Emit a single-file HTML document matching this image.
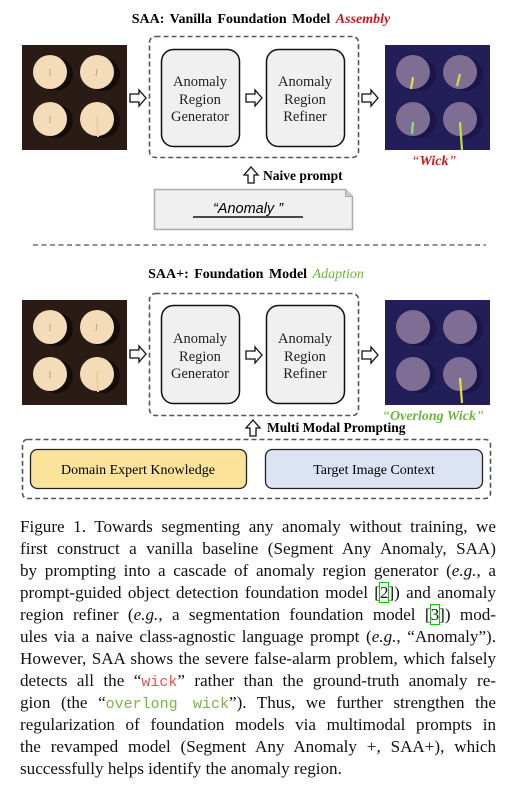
<!DOCTYPE html>
<html><head><meta charset="utf-8"><style>
body{margin:0;width:517px;height:799px;background:#fff;position:relative;overflow:hidden;font-family:"Liberation Serif",serif;}
.a{position:absolute;}
.cap{position:absolute;left:20px;width:476px;font-size:17.1px;line-height:22px;color:#111;}
.cap div{text-align:justify;text-align-last:justify;white-space:nowrap;height:22px;}
.cap div.last{text-align-last:left;}
.m{font-family:"Liberation Mono",monospace;font-size:15px;}
</style></head><body>
<svg class="a" style="left:0;top:0" width="517" height="510" xmlns="http://www.w3.org/2000/svg">
<defs>
<g id="lim">
<rect width="105" height="105" fill="#2a1c14"/>
<g fill="#140d09"><circle cx="34" cy="29" r="17"/><circle cx="81" cy="29" r="17"/><circle cx="34" cy="76" r="17"/><circle cx="81" cy="76" r="17"/></g>
<g fill="#f4dcb8"><circle cx="28" cy="27" r="17"/><circle cx="75" cy="27" r="17"/><circle cx="28" cy="74" r="17"/><circle cx="75" cy="74" r="17"/></g>
<g stroke="#b8a080" stroke-width="1"><line x1="28" y1="24" x2="28" y2="31"/><line x1="75" y1="24" x2="74" y2="31"/><line x1="28" y1="71" x2="28" y2="78"/><line x1="75" y1="71" x2="76" y2="92" stroke="#e8d0a0" stroke-width="2"/></g>
</g>
<g id="rimg">
<rect width="105" height="105" fill="#221e58"/>
<g fill="#1a1648"><circle cx="34" cy="29" r="17"/><circle cx="81" cy="29" r="17"/><circle cx="34" cy="76" r="17"/><circle cx="81" cy="76" r="17"/></g>
<g fill="#7e6e94"><circle cx="28" cy="27" r="17"/><circle cx="75" cy="27" r="17"/><circle cx="28" cy="74" r="17"/><circle cx="75" cy="74" r="17"/></g>
</g>
<g id="ar"><path d="M0,-4 L9,-4 L9,-8 L16,0 L9,8 L9,4 L0,4 Z" fill="#fff" stroke="#111" stroke-width="1.3"/></g>
<g id="au"><path d="M-3,8 L-3,0 L-7,0 L0,-8 L7,0 L3,0 L3,8 Z" fill="#fff" stroke="#111" stroke-width="1.3"/></g>
</defs>
<text x="261" y="23" text-anchor="middle" font-family="Liberation Serif" font-weight="bold" font-size="14" word-spacing="2">SAA: Vanilla Foundation Model <tspan fill="#c8181e" font-style="italic">Assembly</tspan></text>
<use href="#lim" x="22" y="45"/>
<use href="#ar" x="130" y="98"/>
<rect x="149.5" y="36.5" width="209" height="121" rx="6" fill="none" stroke="#555" stroke-width="1.6" stroke-dasharray="5,3"/>
<rect x="161.5" y="49.5" width="78" height="97" rx="12" fill="#f0f0f0" stroke="#111" stroke-width="1.5"/>
<rect x="266.5" y="49.5" width="78" height="97" rx="12" fill="#f0f0f0" stroke="#111" stroke-width="1.5"/>
<g font-family="Liberation Serif" font-size="14.5" text-anchor="middle" fill="#222">
<text x="200" y="86">Anomaly</text><text x="200" y="104">Region</text><text x="200" y="121">Generator</text>
<text x="305" y="86">Anomaly</text><text x="305" y="104">Region</text><text x="305" y="121">Refiner</text>
</g>
<use href="#ar" x="246" y="98"/>
<use href="#ar" x="362" y="98"/>
<use href="#rimg" x="385" y="45"/>
<g stroke-width="2.2"><line x1="413" y1="77" x2="411" y2="89" stroke="#e0e040"/><line x1="460" y1="74" x2="457" y2="86" stroke="#c8e050"/><line x1="413" y1="122" x2="412" y2="134" stroke="#90e080"/><line x1="460" y1="122" x2="462" y2="150" stroke="#c8e040"/></g>
<text x="434" y="165" text-anchor="middle" font-family="Liberation Serif" font-size="14" font-style="italic" font-weight="bold" fill="#c8181e"><tspan font-weight="normal">“</tspan>Wick<tspan font-weight="normal">”</tspan></text>
<use href="#au" x="251" y="175"/>
<text x="263" y="180" font-family="Liberation Serif" font-weight="bold" font-size="13.5">Naive prompt</text>
<path d="M154.5,189.5 L345.5,189.5 L352.5,196.5 L352.5,229.5 L154.5,229.5 Z" fill="#f0f0f0" stroke="#aaa" stroke-width="1.5"/>
<path d="M345.5,189.5 L345.5,196.5 L352.5,196.5" fill="#ccc" stroke="#aaa"/>
<text x="248" y="213" text-anchor="middle" font-family="Liberation Sans" font-style="italic" font-size="14.5">“Anomaly ”</text>
<line x1="193" y1="217" x2="303" y2="217" stroke="#111" stroke-width="1.6"/>
<line x1="33" y1="245" x2="486" y2="245" stroke="#222" stroke-width="1" stroke-dasharray="5,3.5"/>

<text x="256" y="278" text-anchor="middle" font-family="Liberation Serif" font-weight="bold" font-size="14" word-spacing="2">SAA+: Foundation Model <tspan fill="#6db33f" font-style="italic" font-weight="normal">Adaption</tspan></text>
<use href="#lim" x="22" y="300"/>
<use href="#ar" x="130" y="354"/>
<rect x="149.5" y="293.5" width="209" height="122" rx="6" fill="none" stroke="#555" stroke-width="1.6" stroke-dasharray="5,3"/>
<rect x="161.5" y="305.5" width="78" height="98" rx="12" fill="#f0f0f0" stroke="#111" stroke-width="1.5"/>
<rect x="266.5" y="305.5" width="78" height="98" rx="12" fill="#f0f0f0" stroke="#111" stroke-width="1.5"/>
<g font-family="Liberation Serif" font-size="14.5" text-anchor="middle" fill="#222">
<text x="200" y="343">Anomaly</text><text x="200" y="361">Region</text><text x="200" y="378">Generator</text>
<text x="305" y="343">Anomaly</text><text x="305" y="361">Region</text><text x="305" y="378">Refiner</text>
</g>
<use href="#ar" x="246" y="355"/>
<use href="#ar" x="362" y="355"/>
<use href="#rimg" x="385" y="300"/>
<line x1="460" y1="378" x2="462" y2="403" stroke="#e8e040" stroke-width="2.2"/>
<text x="433" y="420" text-anchor="middle" font-family="Liberation Serif" font-size="14" font-style="italic" font-weight="bold" fill="#6db33f"><tspan font-weight="normal">“</tspan>Overlong Wick<tspan font-weight="normal">”</tspan></text>
<use href="#au" x="253" y="428"/>
<text x="267" y="432" font-family="Liberation Serif" font-weight="bold" font-size="13.5">Multi Modal Prompting</text>
<rect x="22.5" y="439.5" width="468" height="59" rx="5" fill="none" stroke="#555" stroke-width="1.6" stroke-dasharray="5,3"/>
<rect x="30.5" y="449.5" width="216" height="39" rx="7" fill="#fbe49a" stroke="#222" stroke-width="1.3"/>
<rect x="265.5" y="449.5" width="217" height="39" rx="7" fill="#dce3f2" stroke="#222" stroke-width="1.3"/>
<text x="138" y="474" text-anchor="middle" font-family="Liberation Serif" font-size="14">Domain Expert Knowledge</text>
<text x="374" y="474" text-anchor="middle" font-family="Liberation Serif" font-size="14">Target Image Context</text>
</svg>
<div class="cap" style="top:516px">
<div>Figure 1. Towards segmenting any anomaly without training, we</div>
<div>first construct a vanilla baseline (Segment Any Anomaly, SAA)</div>
<div>by prompting into a cascade of anomaly region generator (<i>e.g.</i>, a</div>
<div>prompt-guided object detection foundation model [<span style="outline:1px solid #0c0">2</span>]) and anomaly</div>
<div>region refiner (<i>e.g.</i>, a segmentation foundation model [<span style="outline:1px solid #0c0">3</span>]) mod-</div>
<div>ules via a naive class-agnostic language prompt (<i>e.g.</i>, “Anomaly”).</div>
<div>However, SAA shows the severe false-alarm problem, which falsely</div>
<div>detects all the “<span class="m" style="color:#e05050">wick</span>” rather than the ground-truth anomaly re-</div>
<div>gion (the “<span class="m" style="color:#7cb342">overlong wick</span>”). Thus, we further strengthen the</div>
<div>regularization of foundation models via multimodal prompts in</div>
<div>the revamped model (Segment Any Anomaly +, SAA+), which</div>
<div class="last">successfully helps identify the anomaly region.</div>
</div>
</body></html>
